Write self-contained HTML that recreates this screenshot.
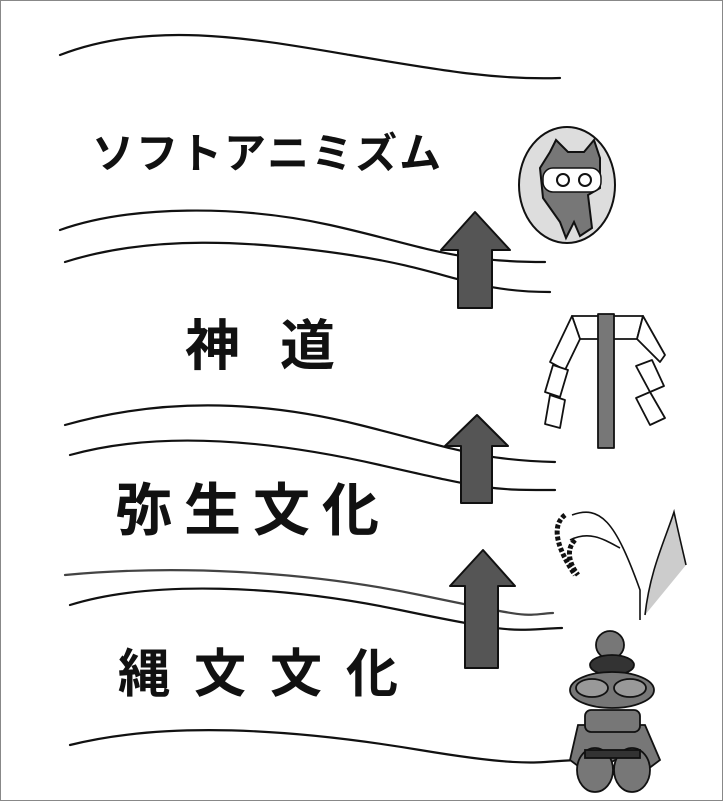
<!DOCTYPE html>
<html><head><meta charset="utf-8"><style>
html,body{margin:0;padding:0;background:#fff;}
svg{display:block;}
text{font-family:"Liberation Sans","Noto Sans CJK JP",sans-serif;fill:#111;font-weight:bold;}
</style></head><body>
<svg width="723" height="801" viewBox="0 0 723 801" xmlns="http://www.w3.org/2000/svg">
<rect x="0.5" y="0.5" width="722" height="800" fill="#fff" stroke="#888" stroke-width="1"/>
<g fill="none" stroke="#111" stroke-width="2.2" stroke-linecap="round">
<path d="M60,55 C150,20 250,38 350,55 S500,80 560,78"/>
<path d="M60,230 C130,205 240,205 330,225 S450,262 545,262"/>
<path d="M65,262 C150,235 250,240 350,255 S470,292 550,292"/>
<path d="M65,425 C160,398 260,400 360,425 S480,460 555,462"/>
<path d="M70,455 C160,430 270,440 380,465 S490,490 555,490"/>
<path d="M65,575 C170,565 300,570 420,595 S520,615 553,613" stroke="#444"/>
<path d="M70,605 C150,580 280,585 400,610 S510,630 562,628"/>
<path d="M70,745 C170,720 300,730 420,750 S540,760 582,760"/>
</g>
<g fill="#555" stroke="#111" stroke-width="2" stroke-linejoin="round">
<path d="M458,308 L458,250 L441,250 L475,212 L510,250 L492,250 L492,308 Z"/>
<path d="M461,503 L461,446 L445,446 L477,415 L508,446 L492,446 L492,503 Z"/>
<path d="M465,668 L465,586 L450,586 L483,550 L515,586 L498,586 L498,668 Z"/>
</g>
<text x="92" y="168" font-size="42" letter-spacing="2">ソフトアニミズム</text>
<text x="185" y="365" font-size="55" letter-spacing="40">神道</text>
<text x="115" y="530" font-size="57" letter-spacing="12">弥生文化</text>
<text x="118" y="692" font-size="52" letter-spacing="24">縄文文化</text>
<ellipse cx="567" cy="185" rx="48" ry="58" fill="#ddd" stroke="#111" stroke-width="2"/>
<path d="M550,152 L556,140 L568,152 L584,152 L594,140 L600,158 L600,188 L588,195 L592,228 L580,236 L574,222 L566,238 L560,222 L543,198 L540,168 Z" fill="#777" stroke="#111" stroke-width="2"/>
<rect x="543" y="168" width="58" height="24" rx="10" fill="#fff" stroke="#111" stroke-width="1.5"/>
<circle cx="563" cy="180" r="6" fill="#fff" stroke="#111" stroke-width="2"/>
<circle cx="585" cy="180" r="6" fill="#fff" stroke="#111" stroke-width="2"/>
<g stroke="#111" stroke-width="1.8" fill="#fff" stroke-linejoin="round">
<path d="M572,316 L643,316 L637,339 L580,339 Z"/>
<path d="M572,316 L580,339 L565,370 L550,362 Z"/>
<path d="M553,365 L568,370 L560,397 L545,392 Z"/>
<path d="M550,395 L565,400 L560,428 L545,424 Z"/>
<path d="M643,316 L637,339 L660,362 L665,355 Z"/>
<path d="M636,366 L652,360 L664,386 L650,392 Z"/>
<path d="M636,398 L650,392 L665,418 L650,425 Z"/>
<rect x="598" y="314" width="16" height="134" fill="#777"/>
</g>
<g stroke="#111" stroke-width="1.6" fill="none">
<path d="M572,515 C600,505 615,520 640,590 L640,620"/>
<path d="M570,540 C590,530 605,540 620,548"/>
<path d="M645,615 C650,570 665,540 674,512 C680,540 685,560 686,565" fill="#ccc"/>
<path d="M565,515 C552,525 555,545 575,575" stroke-width="5" stroke-dasharray="4 2"/>
<path d="M575,540 C565,550 570,565 578,575" stroke-width="5" stroke-dasharray="4 2"/>
</g>
<g stroke="#111" stroke-width="1.8" fill="#777">
<circle cx="610" cy="645" r="14"/>
<ellipse cx="612" cy="665" rx="22" ry="10" fill="#333"/>
<ellipse cx="612" cy="690" rx="42" ry="18"/>
<ellipse cx="592" cy="688" rx="16" ry="9" fill="#999"/>
<ellipse cx="630" cy="688" rx="16" ry="9" fill="#999"/>
<path d="M578,725 L645,725 L660,760 L640,775 L615,760 L590,775 L570,760 Z"/>
<ellipse cx="595" cy="770" rx="18" ry="22"/>
<ellipse cx="632" cy="770" rx="18" ry="22"/>
<rect x="585" y="710" width="55" height="22" rx="6"/>
<rect x="585" y="750" width="55" height="8" fill="#333"/>
</g>
</svg>
</body></html>
